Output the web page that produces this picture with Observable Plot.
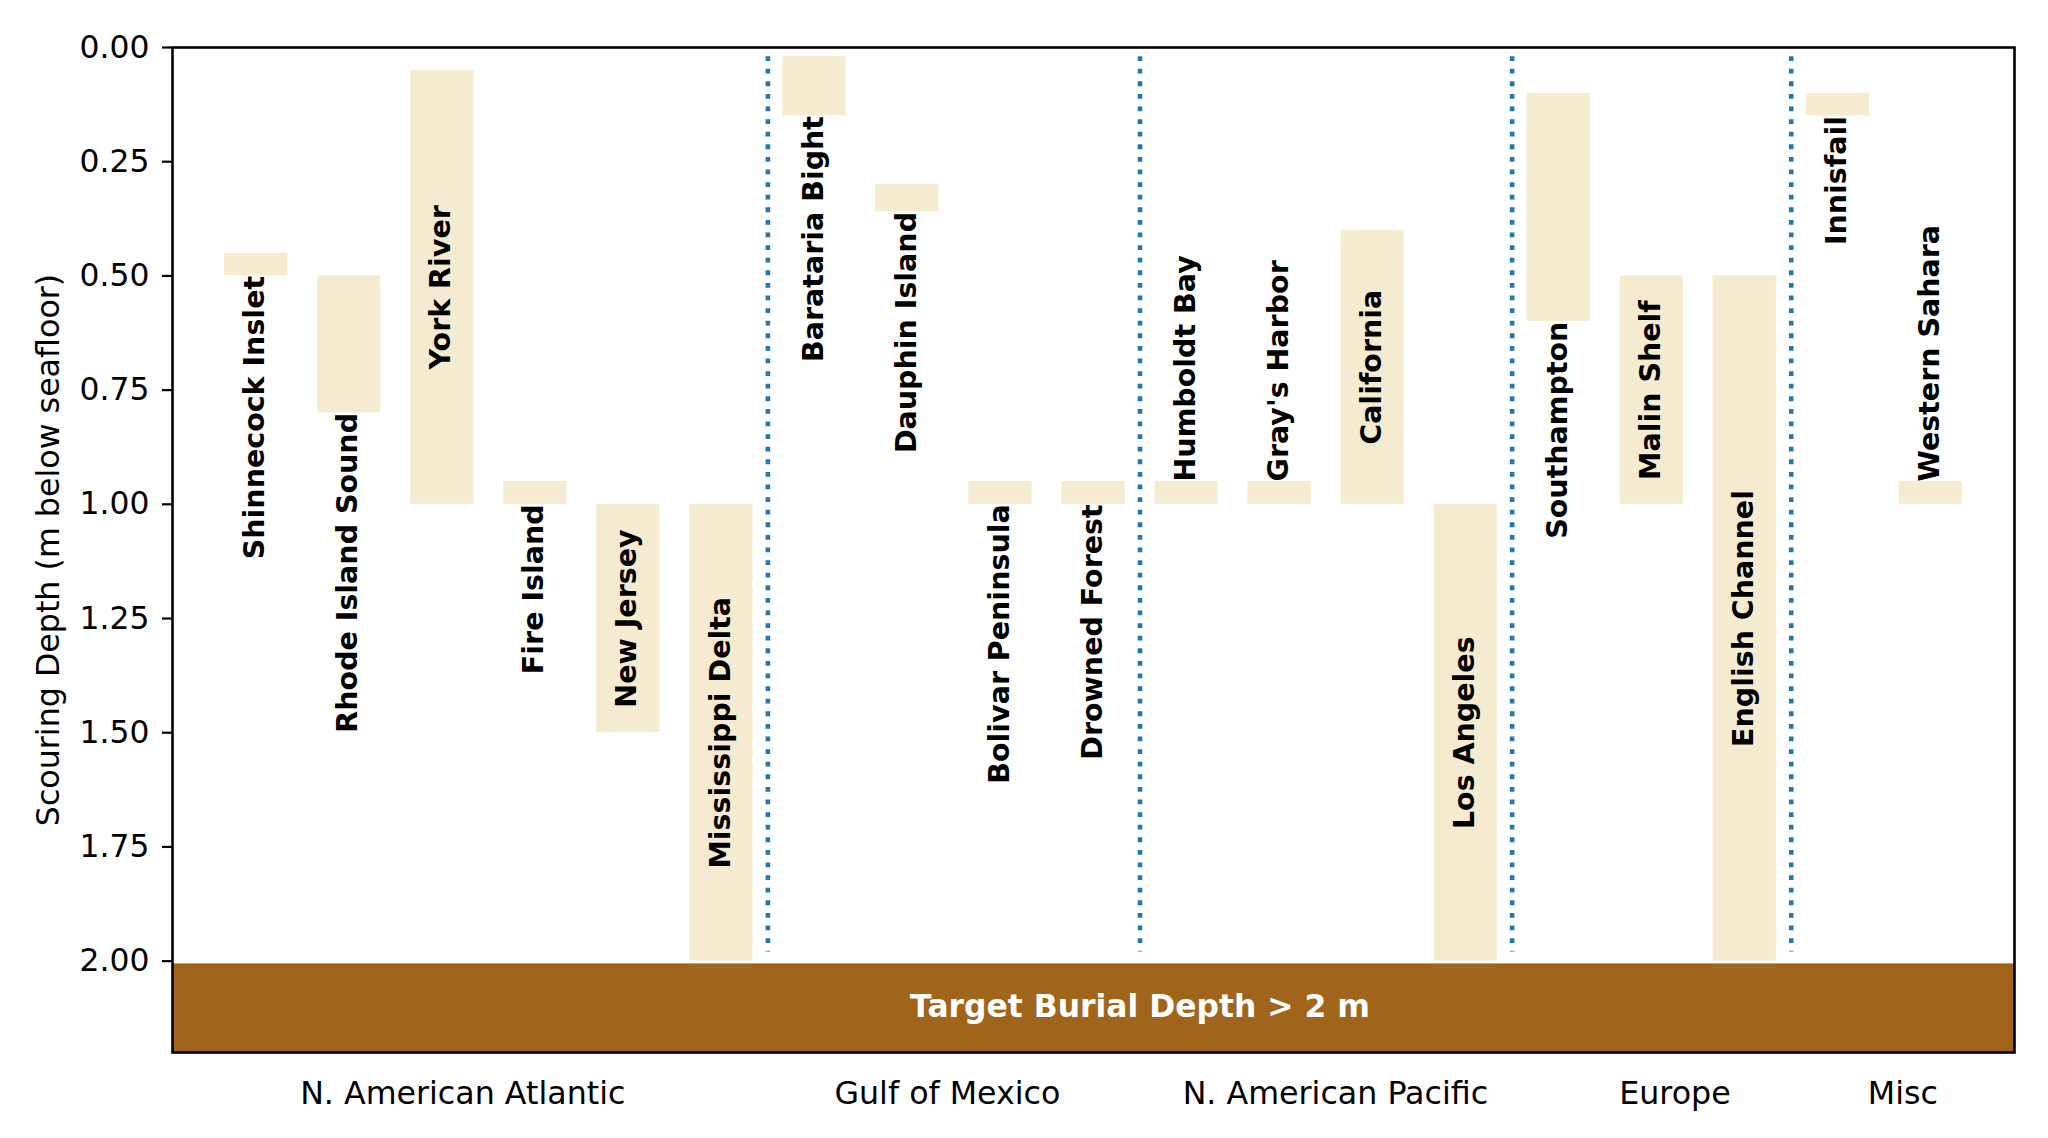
<!DOCTYPE html>
<html>
<head>
<meta charset="utf-8">
<script src="https://cdn.jsdelivr.net/npm/d3@7"></script>
<script src="https://cdn.jsdelivr.net/npm/@observablehq/plot@0.6"></script>
<style>
  html, body { margin: 0; padding: 0; background: white; }
  #chart { width: 2048px; height: 1138px; }
</style>
</head>
<body>
<div id="chart"></div>
<script>
// ---- data ----
const sites = ["Shinnecock Inslet", "Rhode Island Sound", "York River", "Fire Island", "New Jersey",
  "Mississippi Delta", "Barataria Bight", "Dauphin Island", "Bolivar Peninsula", "Drowned Forest",
  "Humboldt Bay", "Gray's Harbor", "California", "Los Angeles", "Southampton", "Malin Shelf",
  "English Channel", "Innisfail", "Western Sahara"];
const minDepth = [0.45, 0.50, 0.05, 0.95, 1.00, 1.00, 0.02, 0.30, 0.95, 0.95, 0.95, 0.95, 0.40, 1.00, 0.10, 0.50, 0.50, 0.10, 0.95];
const maxDepth = [0.50, 0.80, 1.00, 1.00, 1.50, 2.00, 0.15, 0.36, 1.00, 1.00, 1.00, 1.00, 1.00, 2.00, 0.60, 1.00, 2.00, 0.15, 1.00];
const labelPlacement = ["below", "below", "inside", "below", "inside", "inside", "below", "below", "below", "below",
  "above", "above", "inside", "inside", "below", "inside", "inside", "below", "above"];
const regions = ["N. American Atlantic", "Gulf of Mexico", "N. American Pacific", "Europe", "Misc"];
const regionTickPositions = [2.22, 7.43, 11.6, 15.25, 17.7];
const regionDividers = [5.5, 9.5, 13.5, 16.5];
const yTicks = [0, 0.25, 0.5, 0.75, 1.0, 1.25, 1.5, 1.75, 2.0];
const targetDepth = 2.0;
const axisMaxDepth = 2.2;
const targetLabel = "Target Burial Depth > 2 m";
const targetLabelPosition = 9.5;
const yLabel = "Scouring Depth (m below seafloor)";

// ---- table ----
const table = sites.map((s, i) => ({
  site: s, idx: i, top: minDepth[i], bottom: maxDepth[i], place: labelPlacement[i]
}));
const halfWidth = 0.34;

const bold = {fontWeight: "bold", fontSize: 28.5, fill: "black", rotate: -90, dx: -1};

const chart = Plot.plot({
  width: 2048,
  height: 1138,
  marginLeft: 172,
  marginRight: 34,
  marginTop: 47,
  marginBottom: 86,
  style: {fontFamily: "DejaVu Sans", fontSize: "31.6px", background: "white", color: "black"},
  x: {type: "linear", domain: [-0.9, 18.9], axis: null},
  y: {domain: [0, axisMaxDepth], reverse: true, axis: null},
  marks: [
    // target burial zone
    Plot.rect([{y1: targetDepth + 0.006, y2: axisMaxDepth}], {y1: "y1", y2: "y2", fill: "#A0651A"}),
    Plot.text([targetLabel], {x: () => targetLabelPosition, y: () => (targetDepth + axisMaxDepth) / 2,
      text: d => d, fill: "white", fontWeight: "bold", fontSize: 31.4}),
    // bars
    Plot.rect(table, {x1: d => d.idx - halfWidth, x2: d => d.idx + halfWidth, y1: "top", y2: "bottom", fill: "#F5EBD1"}),
    // dividers
    Plot.ruleX(regionDividers, {x: d => d, y1: 0.02, y2: 1.98, stroke: "#1f77b4", strokeWidth: 4.6, strokeDasharray: "4.8,7.8"}),
    // labels
    Plot.text(table.filter(d => d.place === "below"), {x: "idx", y: "bottom", text: "site", textAnchor: "end", ...bold}),
    Plot.text(table.filter(d => d.place === "above"), {x: "idx", y: "top", text: "site", textAnchor: "start", ...bold}),
    Plot.text(table.filter(d => d.place === "inside"), {x: "idx", y: d => (d.top + d.bottom) / 2, text: "site", textAnchor: "middle", ...bold}),
    // y axis
    Plot.axisY({ticks: yTicks, tickFormat: d => d.toFixed(2), tickSize: 10, tickPadding: 13, fontSize: 31.4, strokeWidth: 2.2, label: null}),
    Plot.text([yLabel], {frameAnchor: "left", dx: -124, rotate: -90, textAnchor: "middle", lineAnchor: "middle", text: d => d, fontSize: 31.7}),
    // region labels
    Plot.text(regions, {x: (d, i) => regionTickPositions[i], frameAnchor: "bottom", dy: 41, lineAnchor: "middle", text: d => d, fontSize: 31.7}),
    Plot.frame({stroke: "black", strokeWidth: 2.6})
  ]
});
document.getElementById("chart").appendChild(chart);
</script>
</body>
</html>
